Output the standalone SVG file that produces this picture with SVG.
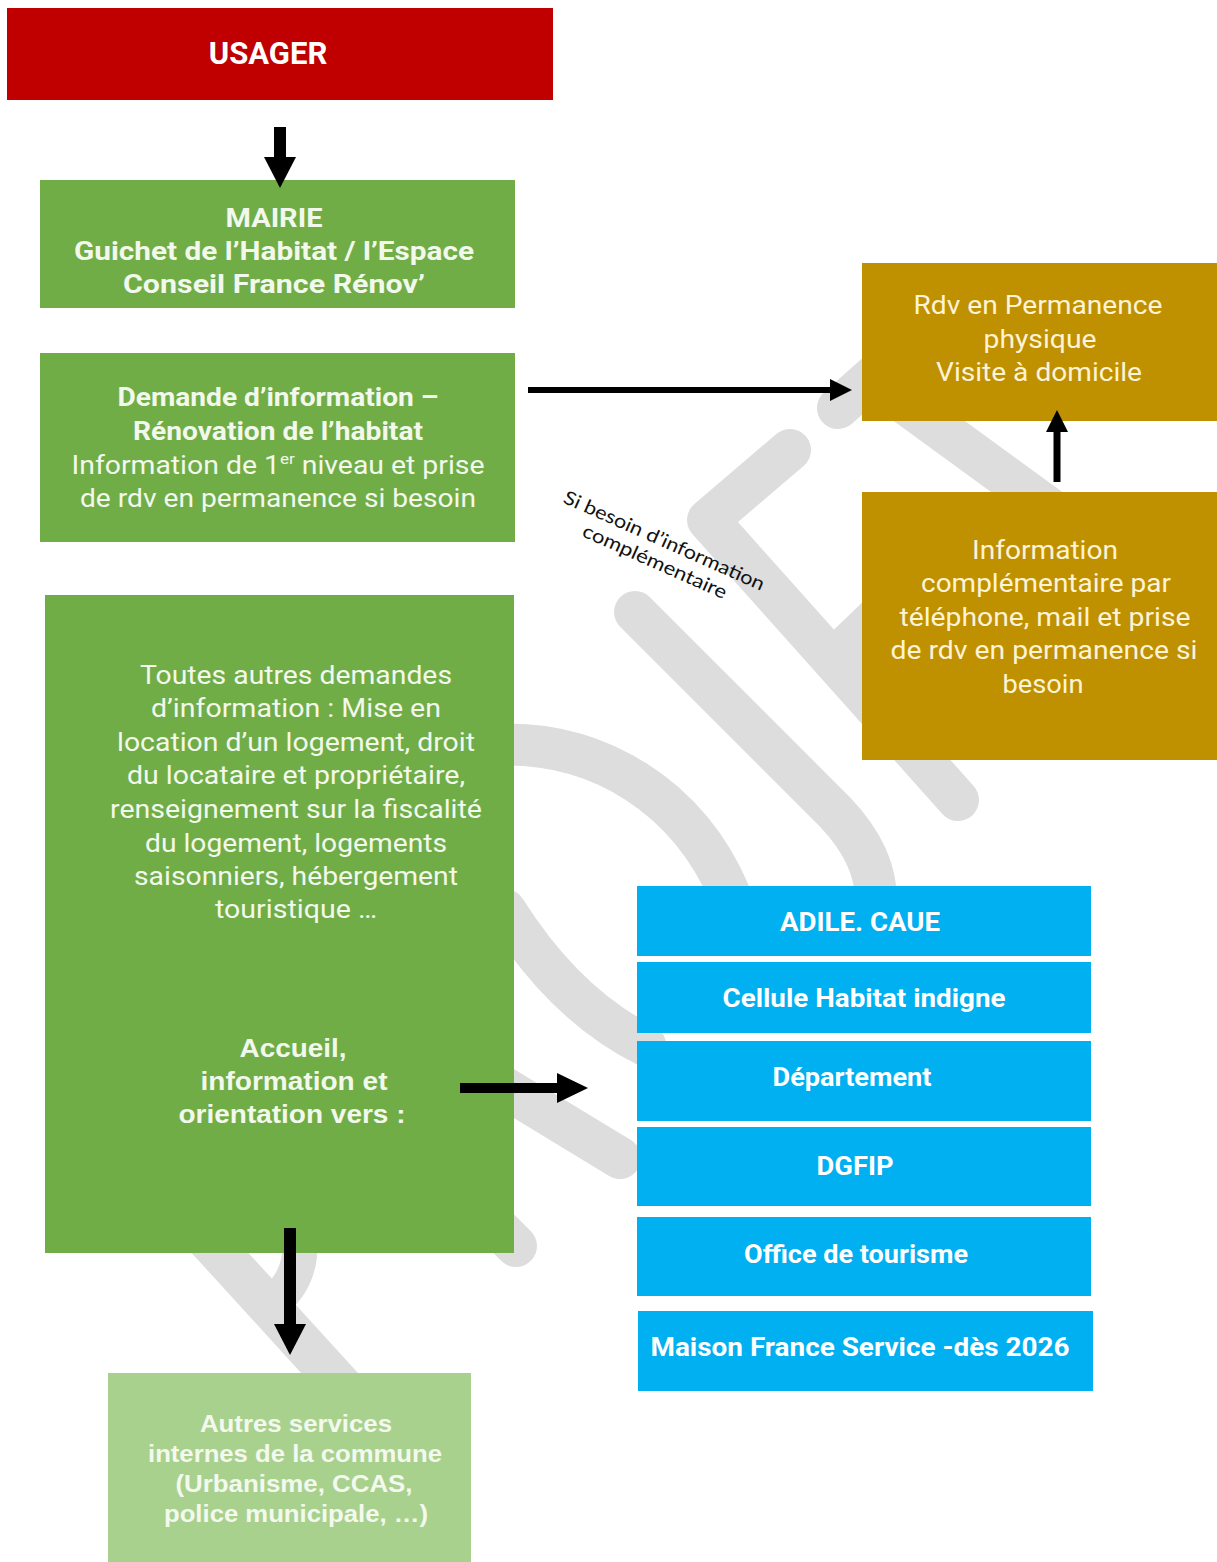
<svg xmlns="http://www.w3.org/2000/svg" width="1217" height="1562" viewBox="0 0 1217 1562">
  <defs>
    <style>
      .wm { fill: none; stroke: #dddddd; stroke-width: 42; stroke-linecap: round; stroke-linejoin: round; }
      .rb { font-family: Roboto, "Liberation Sans", sans-serif; font-weight: 700; text-anchor: middle; }
      .rr { font-family: Roboto, "Liberation Sans", sans-serif; font-weight: 400; text-anchor: middle; }
      .ab { font-family: "Liberation Sans", Arial, sans-serif; font-weight: 700; text-anchor: middle; }
      .tg { fill: #f3f8ec; }
      .tgl { fill: #f4f9ef; }
      .ty { fill: #fdf3d6; }
      .tw { fill: #ffffff; }
      .shaft { stroke: #000000; fill: none; }
    </style>
    <marker id="head-lg" markerUnits="userSpaceOnUse" markerWidth="31" markerHeight="32" viewBox="0 0 31 32" refX="1" refY="16" orient="auto">
      <path d="M0,0 L31,16 L0,32 Z" fill="#000000"/>
    </marker>
    <marker id="head-md" markerUnits="userSpaceOnUse" markerWidth="31" markerHeight="30" viewBox="0 0 31 30" refX="1" refY="15" orient="auto">
      <path d="M0,0 L31,15 L0,30 Z" fill="#000000"/>
    </marker>
    <marker id="head-sm" markerUnits="userSpaceOnUse" markerWidth="22" markerHeight="22" viewBox="0 0 22 22" refX="1" refY="11" orient="auto">
      <path d="M0,0 L22,11 L0,22 Z" fill="#000000"/>
    </marker>
  </defs>

  <rect x="0" y="0" width="1217" height="1562" fill="#ffffff"/>

  <!-- watermark -->
  <g id="watermark">
    <path class="wm" d="M838,408 L892,360"/>
    <path class="wm" d="M880,385 L1065,520"/>
    <path class="wm" d="M790,450 L708,520 L958,800"/>
    <path class="wm" d="M838,655 L890,605"/>
    <path class="wm" d="M635,612 L835,812 Q876,855 876,900"/>
    <path class="wm" d="M490,745 C600,738 690,800 730,895"/>
    <path class="wm" d="M505,910 Q565,1005 645,1045"/>
    <path class="wm" d="M470,1067 L620,1158"/>
    <path class="wm" d="M470,1200 L516,1246"/>
    <path class="wm" d="M190,1220 L345,1390"/>
    <path class="wm" style="stroke-width:35" d="M300,1240 Q302,1280 272,1303"/>
  </g>

  <!-- nodes -->
  <g id="usager">
    <rect x="7" y="8" width="546" height="92" fill="#c00000"/>
    <text class="rb tw" x="268" y="64" font-size="31">USAGER</text>
  </g>

  <g id="mairie">
    <rect x="40" y="180" width="475" height="128" fill="#70ad47"/>
    <text class="rb tg" x="274" y="227" font-size="25" textLength="97" lengthAdjust="spacingAndGlyphs">MAIRIE</text>
    <text class="rb tg" x="274" y="260" font-size="25" textLength="400" lengthAdjust="spacingAndGlyphs">Guichet de l’Habitat / l’Espace</text>
    <text class="rb tg" x="274" y="293" font-size="25" textLength="302" lengthAdjust="spacingAndGlyphs">Conseil France Rénov’</text>
  </g>

  <g id="demande">
    <rect x="40" y="353" width="475" height="189" fill="#70ad47"/>
    <text class="rb tg" x="278" y="406" font-size="25" textLength="321" lengthAdjust="spacingAndGlyphs">Demande d’information –</text>
    <text class="rb tg" x="278" y="440" font-size="25" textLength="290" lengthAdjust="spacingAndGlyphs">Rénovation de l’habitat</text>
    <text class="rr tg" x="278" y="474" font-size="25" textLength="413" lengthAdjust="spacingAndGlyphs">Information de 1<tspan font-size="15" dy="-10">er</tspan><tspan dy="10"> niveau et prise</tspan></text>
    <text class="rr tg" x="278" y="507" font-size="25" textLength="396" lengthAdjust="spacingAndGlyphs">de rdv en permanence si besoin</text>
  </g>

  <g id="autres-demandes">
    <rect x="45" y="595" width="469" height="658" fill="#70ad47"/>
    <text class="rr tg" x="296" y="684" font-size="25" textLength="312" lengthAdjust="spacingAndGlyphs">Toutes autres demandes</text>
    <text class="rr tg" x="296" y="717" font-size="25" textLength="290" lengthAdjust="spacingAndGlyphs">d’information : Mise en</text>
    <text class="rr tg" x="296" y="751" font-size="25" textLength="358" lengthAdjust="spacingAndGlyphs">location d’un logement, droit</text>
    <text class="rr tg" x="296" y="784" font-size="25" textLength="338" lengthAdjust="spacingAndGlyphs">du locataire et propriétaire,</text>
    <text class="rr tg" x="296" y="818" font-size="25" textLength="372" lengthAdjust="spacingAndGlyphs">renseignement sur la fiscalité</text>
    <text class="rr tg" x="296" y="852" font-size="25" textLength="302" lengthAdjust="spacingAndGlyphs">du logement, logements</text>
    <text class="rr tg" x="296" y="885" font-size="25" textLength="324" lengthAdjust="spacingAndGlyphs">saisonniers, hébergement</text>
    <text class="rr tg" x="296" y="918" font-size="25" textLength="162" lengthAdjust="spacingAndGlyphs">touristique …</text>
    <text class="ab tg" x="293" y="1057" font-size="25" textLength="107" lengthAdjust="spacingAndGlyphs">Accueil,</text>
    <text class="ab tg" x="294" y="1090" font-size="25" textLength="187" lengthAdjust="spacingAndGlyphs">information et</text>
    <text class="ab tg" x="292" y="1123" font-size="25" textLength="227" lengthAdjust="spacingAndGlyphs">orientation vers :</text>
  </g>

  <g id="autres-services">
    <rect x="108" y="1373" width="363" height="189" fill="#a9d18e"/>
    <text class="ab tgl" x="296" y="1432" font-size="24" textLength="192" lengthAdjust="spacingAndGlyphs">Autres services</text>
    <text class="ab tgl" x="295" y="1462" font-size="24" textLength="294" lengthAdjust="spacingAndGlyphs">internes de la commune</text>
    <text class="ab tgl" x="294" y="1492" font-size="24" textLength="237" lengthAdjust="spacingAndGlyphs">(Urbanisme, CCAS,</text>
    <text class="ab tgl" x="296" y="1522" font-size="24" textLength="264" lengthAdjust="spacingAndGlyphs">police municipale, …)</text>
  </g>

  <g id="rdv-permanence">
    <rect x="862" y="263" width="355" height="158" fill="#bf9000"/>
    <text class="rr ty" x="1038" y="314" font-size="26" textLength="249" lengthAdjust="spacingAndGlyphs">Rdv en Permanence</text>
    <text class="rr ty" x="1040" y="348" font-size="26" textLength="113" lengthAdjust="spacingAndGlyphs">physique</text>
    <text class="rr ty" x="1039" y="381" font-size="26" textLength="206" lengthAdjust="spacingAndGlyphs">Visite à domicile</text>
  </g>

  <g id="info-complementaire">
    <rect x="862" y="492" width="355" height="268" fill="#bf9000"/>
    <text class="rr ty" x="1045" y="559" font-size="26" textLength="146" lengthAdjust="spacingAndGlyphs">Information</text>
    <text class="rr ty" x="1046" y="592" font-size="26" textLength="250" lengthAdjust="spacingAndGlyphs">complémentaire par</text>
    <text class="rr ty" x="1045" y="626" font-size="26" textLength="291" lengthAdjust="spacingAndGlyphs">téléphone, mail et prise</text>
    <text class="rr ty" x="1044" y="659" font-size="26" textLength="307" lengthAdjust="spacingAndGlyphs">de rdv en permanence si</text>
    <text class="rr ty" x="1043" y="693" font-size="26" textLength="81" lengthAdjust="spacingAndGlyphs">besoin</text>
  </g>

  <g id="adile">
    <rect x="637" y="886" width="454" height="70" fill="#00b0f0"/>
    <text class="rb tw" x="860" y="931" font-size="25" textLength="160" lengthAdjust="spacingAndGlyphs">ADILE. CAUE</text>
  </g>
  <g id="cellule">
    <rect x="637" y="962" width="454" height="71" fill="#00b0f0"/>
    <text class="rb tw" x="864" y="1007" font-size="25" textLength="283" lengthAdjust="spacingAndGlyphs">Cellule Habitat indigne</text>
  </g>
  <g id="departement">
    <rect x="637" y="1041" width="454" height="80" fill="#00b0f0"/>
    <text class="rb tw" x="852" y="1086" font-size="25" textLength="159" lengthAdjust="spacingAndGlyphs">Département</text>
  </g>
  <g id="dgfip">
    <rect x="637" y="1127" width="454" height="79" fill="#00b0f0"/>
    <text class="rb tw" x="855" y="1175" font-size="25" textLength="77" lengthAdjust="spacingAndGlyphs">DGFIP</text>
  </g>
  <g id="office-tourisme">
    <rect x="637" y="1217" width="454" height="79" fill="#00b0f0"/>
    <text class="rb tw" x="856" y="1263" font-size="25" textLength="224" lengthAdjust="spacingAndGlyphs">Office de tourisme</text>
  </g>
  <g id="maison-france-service">
    <rect x="638" y="1311" width="455" height="80" fill="#00b0f0"/>
    <text class="rb tw" x="860" y="1356" font-size="25" textLength="419" lengthAdjust="spacingAndGlyphs">Maison France Service -dès 2026</text>
  </g>

  <!-- rotated label -->
  <g id="label-besoin" transform="translate(664,541) rotate(24)">
    <text x="0" y="6" font-family="Lato, 'Open Sans', sans-serif" font-size="19" fill="#111111" text-anchor="middle" textLength="218" lengthAdjust="spacingAndGlyphs">Si besoin d’information</text>
    <text x="0" y="29" font-family="Lato, 'Open Sans', sans-serif" font-size="19" fill="#111111" text-anchor="middle" textLength="156" lengthAdjust="spacingAndGlyphs">complémentaire</text>
  </g>

  <!-- connectors -->
  <g id="connectors">
    <line class="shaft" x1="280" y1="127" x2="280" y2="158" stroke-width="12" marker-end="url(#head-lg)"/>
    <line class="shaft" x1="528" y1="390" x2="831" y2="390" stroke-width="6" marker-end="url(#head-sm)"/>
    <line class="shaft" x1="1057" y1="482" x2="1057" y2="431" stroke-width="7" marker-end="url(#head-sm)"/>
    <line class="shaft" x1="460" y1="1088" x2="558" y2="1088" stroke-width="10" marker-end="url(#head-md)"/>
    <line class="shaft" x1="290" y1="1228" x2="290" y2="1325" stroke-width="12" marker-end="url(#head-lg)"/>
  </g>
</svg>
